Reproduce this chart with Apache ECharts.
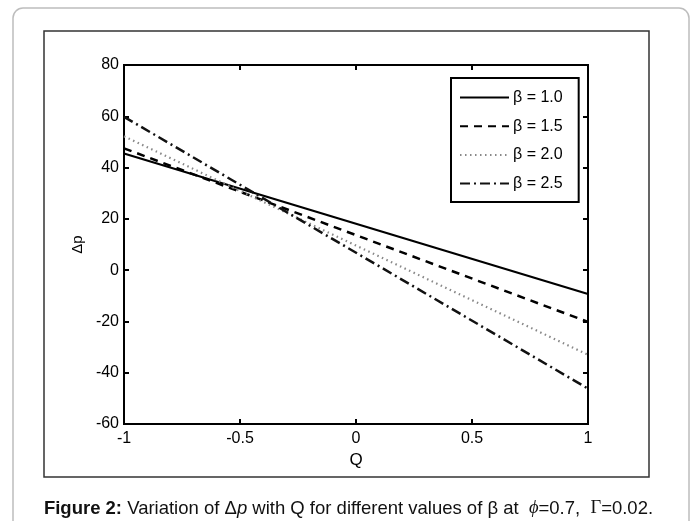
<!DOCTYPE html>
<html><head><meta charset="utf-8">
<script src="https://cdn.jsdelivr.net/npm/echarts@6/dist/echarts.min.js"></script>
<style>html,body{margin:0;padding:0;background:#fff}#c{width:697px;height:521px}</style>
</head><body><div id="c"></div>
<script>
const Q = [-1, 1];
const beta10 = [45.5, -9.3];
const beta15 = [47.5, -20.2];
const beta20 = [52.2, -33];
const beta25 = [59.8, -46.2];
const names = ['\u03b2 = 1.0', '\u03b2 = 1.5', '\u03b2 = 2.0', '\u03b2 = 2.5'];
const xTicks = [-1, -0.5, 0, 0.5, 1];
const yTicks = [-60, -40, -20, 0, 20, 40, 60, 80];

const FONT = 'Liberation Sans, Arial, sans-serif';
const chart = echarts.init(document.getElementById('c'));
const pair = arr => Q.map((q, i) => [q, arr[i]]);
const baseAxis = {
  axisLine: {show: true, onZero: false, lineStyle: {color: '#000', width: 2}},
  axisTick: {show: true, inside: true, length: 5, lineStyle: {color: '#000', width: 2}},
  splitLine: {show: false}
};
function mkSeries(name, data, color, width, type) {
  return {name, type: 'line', data: pair(data), symbol: 'none', xAxisIndex: 0, yAxisIndex: 0,
    lineStyle: {color, width, type}, itemStyle: {color}, animation: false};
}
chart.setOption({
  animation: false,
  grid: {left: 124, right: 109, top: 65, bottom: 97, show: true, borderColor: '#000', borderWidth: 2},
  xAxis: [
    Object.assign({}, baseAxis, {type: 'value', min: -1, max: 1, interval: 0.5, position: 'bottom',
      name: 'Q', nameLocation: 'middle', nameGap: 25,
      nameTextStyle: {fontFamily: FONT, fontSize: 17, color: '#000'},
      axisLabel: {fontFamily: FONT, fontSize: 16, color: '#000', margin: 7,
        formatter: v => xTicks.includes(v) ? String(v) : ''}}),
    Object.assign({}, baseAxis, {type: 'value', min: -1, max: 1, interval: 0.5, position: 'top',
      axisLabel: {show: false}})
  ],
  yAxis: [
    Object.assign({}, baseAxis, {type: 'value', min: -60, max: 80, interval: 20, position: 'left',
      name: '\u0394p', nameLocation: 'middle', nameGap: 38, nameRotate: 90,
      nameTextStyle: {fontFamily: FONT, fontSize: 15, color: '#000'},
      axisLabel: {fontFamily: FONT, fontSize: 16, color: '#000', margin: 5,
        formatter: v => yTicks.includes(v) ? String(v) : ''}}),
    Object.assign({}, baseAxis, {type: 'value', min: -60, max: 80, interval: 20, position: 'right',
      axisLabel: {show: false}})
  ],
  legend: {
    orient: 'vertical', left: 451, top: 78,
    data: names, itemWidth: 49, itemHeight: 14, itemGap: 8.7,
    padding: [9.5, 16, 8.5, 8],
    borderColor: '#000', borderWidth: 2, backgroundColor: '#fff',
    itemStyle: {opacity: 0},
    textStyle: {fontFamily: FONT, fontSize: 16, lineHeight: 20, color: '#000', padding: [0, 0, 0, -1]}
  },
  series: [
    mkSeries(names[0], beta10, '#000', 2.2, 'solid'),
    mkSeries(names[1], beta15, '#000', 2.5, [8, 6]),
    mkSeries(names[2], beta20, '#888', 2.2, [1.5, 3.5]),
    mkSeries(names[3], beta25, '#111', 2.5, [10, 4, 2, 4])
  ],
  graphic: [
    {type: 'rect', shape: {x: 13, y: 8, width: 676, height: 560, r: 10}, style: {fill: 'none', stroke: '#bdbdbd', lineWidth: 1.5}, silent: true, z: -10},
    {type: 'rect', shape: {x: 44, y: 31, width: 605, height: 446}, style: {fill: 'none', stroke: '#333', lineWidth: 1.5}, silent: true, z: -10},
    {type: 'text', left: 'center', top: 499, style: {
      rich: {
        b: {fontFamily: FONT, fontWeight: 'bold', fontSize: 18.5, fill: '#111'},
        n: {fontFamily: FONT, fontSize: 18.5, fill: '#111'},
        i: {fontFamily: FONT, fontStyle: 'italic', fontSize: 18.5, fill: '#111'},
        s: {fontFamily: 'Liberation Serif, Times New Roman, serif', fontStyle: 'italic', fontSize: 18.5, fill: '#111'},
        g: {fontFamily: 'Liberation Serif, Times New Roman, serif', fontSize: 18.5, fill: '#111'}
      },
      text: '{b|Figure 2:}{n| Variation of \u0394}{i|p}{n| with Q for different values of \u03b2 at  }{s|\u03d5}{n|=0.7,  }{g|\u0393}{n|=0.02.}'
    }}
  ]
});
</script></body></html>
